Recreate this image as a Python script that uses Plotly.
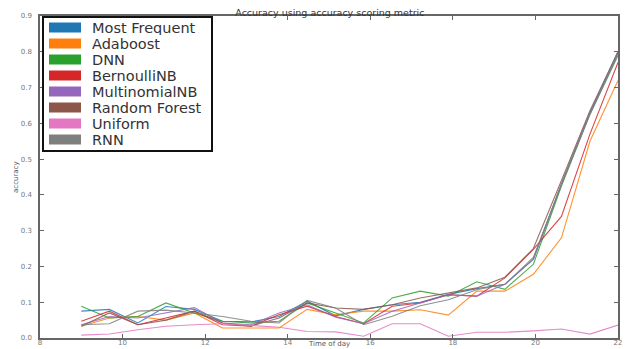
import plotly.graph_objects as go

# Hour of day at which each score was computed
hours = [9.0, 9.68, 10.37, 11.05, 11.74, 12.42, 13.11, 13.79, 14.47, 15.16,
         15.84, 16.53, 17.21, 17.89, 18.58, 19.26, 19.95, 20.63, 21.32, 22.0]

most_frequent = [0.075, 0.080, 0.042, 0.088, 0.080, 0.047, 0.045, 0.060, 0.103, 0.062,
                 0.080, 0.093, 0.100, 0.122, 0.138, 0.150, 0.220, 0.430, 0.630, 0.800]
adaboost = [0.033, 0.056, 0.060, 0.050, 0.070, 0.028, 0.028, 0.028, 0.080, 0.065,
            0.075, 0.075, 0.079, 0.064, 0.131, 0.131, 0.178, 0.280, 0.550, 0.720]
dnn = [0.089, 0.056, 0.060, 0.098, 0.070, 0.047, 0.042, 0.047, 0.098, 0.070,
       0.042, 0.112, 0.131, 0.117, 0.157, 0.136, 0.206, 0.425, 0.625, 0.790]
bernoulli_nb = [0.047, 0.075, 0.037, 0.056, 0.075, 0.037, 0.033, 0.065, 0.089, 0.060,
                0.040, 0.089, 0.098, 0.121, 0.117, 0.168, 0.248, 0.340, 0.570, 0.770]
multinomial_nb = [0.037, 0.060, 0.056, 0.070, 0.085, 0.042, 0.037, 0.070, 0.093, 0.058,
                  0.040, 0.075, 0.098, 0.121, 0.117, 0.150, 0.220, 0.430, 0.625, 0.795]
random_forest = [0.033, 0.070, 0.037, 0.050, 0.075, 0.042, 0.033, 0.056, 0.098, 0.084,
                 0.080, 0.093, 0.112, 0.126, 0.140, 0.170, 0.250, 0.440, 0.635, 0.800]
uniform = [0.008, 0.011, 0.023, 0.033, 0.037, 0.040, 0.035, 0.030, 0.018, 0.017,
           0.005, 0.040, 0.040, 0.005, 0.016, 0.016, 0.020, 0.025, 0.011, 0.036]
rnn = [0.037, 0.040, 0.075, 0.078, 0.070, 0.060, 0.047, 0.042, 0.105, 0.084,
       0.037, 0.061, 0.090, 0.107, 0.135, 0.150, 0.225, 0.430, 0.630, 0.800]

series_names = ["Most Frequent", "Adaboost", "DNN", "BernoulliNB",
                "MultinomialNB", "Random Forest", "Uniform", "RNN"]
series_values = [most_frequent, adaboost, dnn, bernoulli_nb,
                 multinomial_nb, random_forest, uniform, rnn]
colors = ["#1f77b4", "#ff7f0e", "#2ca02c", "#d62728",
          "#9467bd", "#8c564b", "#e377c2", "#7f7f7f"]

x_ticks = [8, 10, 12, 14, 16, 18, 20, 22]
y_ticks = [0.0, 0.1, 0.2, 0.3, 0.4, 0.5, 0.6, 0.7, 0.8, 0.9]

W, H = 626, 349
M_L, M_R, M_T, M_B = 40, 8, 16, 11
PLOT_W = W - M_L - M_R
PLOT_H = H - M_T - M_B


def px_x(px):
    """Horizontal pixel position -> paper fraction."""
    return (px - M_L) / PLOT_W


def px_y(py):
    """Vertical pixel position (from top) -> paper fraction."""
    return (H - M_B - py) / PLOT_H


fig = go.Figure()

# Score curves
for name, vals, col in zip(series_names, series_values, colors):
    fig.add_trace(go.Scatter(x=hours, y=vals, mode="lines", name=name,
                             line=dict(color=col, width=1.1), opacity=0.85,
                             showlegend=False, hoverinfo="x+y+name"))

# Boxed legend with solid colour patches, upper left
shapes = [dict(type="rect", xref="paper", yref="paper", layer="above",
               x0=px_x(43), x1=px_x(212), y0=px_y(151), y1=px_y(17),
               fillcolor="white", line=dict(color="#111111", width=2))]
annotations = []
for i, (name, col) in enumerate(zip(series_names, colors)):
    row = 27.5 + 16 * i
    shapes.append(dict(type="rect", xref="paper", yref="paper", layer="above",
                       x0=px_x(49), x1=px_x(81), y0=px_y(row + 5), y1=px_y(row - 5),
                       fillcolor=col, line=dict(width=0)))
    annotations.append(dict(text=name, xref="paper", yref="paper",
                            x=px_x(91), y=px_y(row), xanchor="left", yanchor="middle",
                            showarrow=False, height=15, borderpad=0,
                            font=dict(family="DejaVu Sans", size=14.5, color="#333333")))

# Axis titles
annotations += [
    dict(text="accuracy", xref="paper", yref="paper", x=px_x(16), y=0.5,
         textangle=-90, showarrow=False, xanchor="center", yanchor="middle",
         font=dict(family="DejaVu Sans", size=7, color="#555555")),
    dict(text="Time of day", xref="paper", yref="paper", x=0.5, y=px_y(349),
         showarrow=False, xanchor="center", yanchor="bottom", borderpad=0,
         font=dict(family="DejaVu Sans", size=7, color="#555555")),
]

axis_common = dict(
    showgrid=False, zeroline=False, showline=True, linecolor="#666666",
    linewidth=1.5, mirror="ticks", ticks="inside", ticklen=4, automargin=False,
    tickcolor="#666666", tickfont=dict(family="DejaVu Sans", size=7, color="#777777"),
)

fig.update_layout(
    width=W, height=H,
    margin=dict(l=M_L, r=M_R, t=M_T, b=M_B, autoexpand=False),
    paper_bgcolor="white", plot_bgcolor="white",
    showlegend=False,
    title=dict(text="Accuracy using accuracy scoring metric", x=0.527, xanchor="center",
               y=0.965, yanchor="middle", yref="container", automargin=False,
               font=dict(family="DejaVu Sans", size=9.5, color="#333333")),
    xaxis=dict(range=[8, 22], tickvals=x_ticks, ticklabelstandoff=-3, **axis_common),
    yaxis=dict(range=[0, 0.9], tickvals=y_ticks, tickformat=".1f",
               ticklabelstandoff=5, **axis_common),
    shapes=shapes,
    annotations=annotations,
)

fig.write_html("out.html")
